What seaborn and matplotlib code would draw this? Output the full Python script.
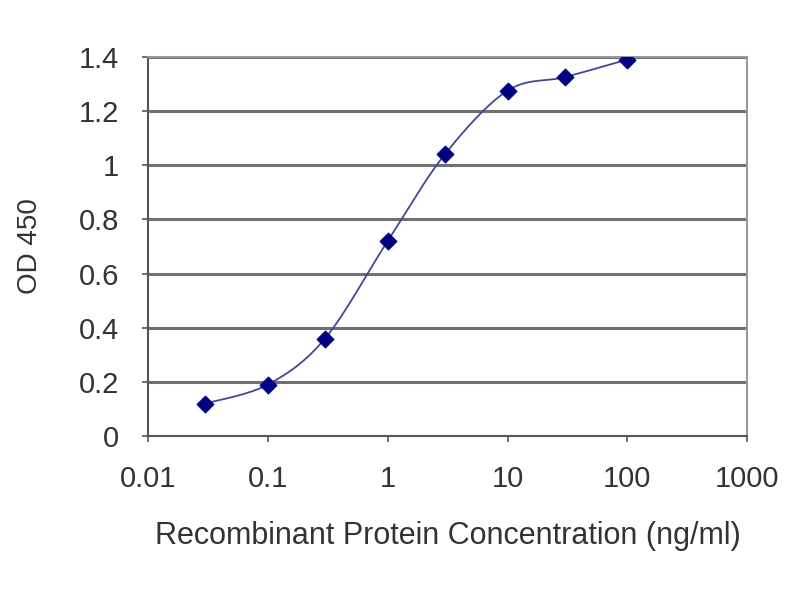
import numpy as np
import pandas as pd
import matplotlib
matplotlib.use("Agg")
import matplotlib.pyplot as plt
import seaborn as sns

# data
conc = [0.03, 0.1, 0.3, 1, 3, 10, 30, 100]
od450 = [0.12, 0.19, 0.36, 0.72, 1.04, 1.275, 1.325, 1.39]
x_ticks = [0.01, 0.1, 1, 10, 100, 1000]
x_tick_labels = ["0.01", "0.1", "1", "10", "100", "1000"]
y_ticks = [0, 0.2, 0.4, 0.6, 0.8, 1, 1.2, 1.4]
y_tick_labels = ["0", "0.2", "0.4", "0.6", "0.8", "1", "1.2", "1.4"]

sns.set_style("white")
plt.rcParams["font.family"] = ["Liberation Sans", "DejaVu Sans"]

df = pd.DataFrame({"conc": conc, "od": od450})


# Excel-style smoothed line: cubic bezier through the points in log-x space
def smooth(xs, ys, n=30):
    lx = np.log10(xs)
    ys = np.asarray(ys, dtype=float)
    px, py = [], []
    for i in range(len(lx) - 1):
        p0 = (lx[max(i - 1, 0)], ys[max(i - 1, 0)])
        p1 = (lx[i], ys[i])
        p2 = (lx[i + 1], ys[i + 1])
        p3 = (lx[min(i + 2, len(lx) - 1)], ys[min(i + 2, len(lx) - 1)])
        c1 = (p1[0] + (p2[0] - p0[0]) / 6, p1[1] + (p2[1] - p0[1]) / 6)
        c2 = (p2[0] - (p3[0] - p1[0]) / 6, p2[1] - (p3[1] - p1[1]) / 6)
        t = np.linspace(0, 1, n)
        bx = (1 - t) ** 3 * p1[0] + 3 * (1 - t) ** 2 * t * c1[0] + 3 * (1 - t) * t ** 2 * c2[0] + t ** 3 * p2[0]
        by = (1 - t) ** 3 * p1[1] + 3 * (1 - t) ** 2 * t * c1[1] + 3 * (1 - t) * t ** 2 * c2[1] + t ** 3 * p2[1]
        px.extend(bx)
        py.extend(by)
    return 10 ** np.array(px), np.array(py)


fig = plt.figure(figsize=(8, 6), dpi=100)
ax = fig.add_axes([0.185, 0.2733, 0.749, 0.632])

sx, sy = smooth(conc, od450)
sns.lineplot(x=sx, y=sy, ax=ax, color="#45459a", linewidth=1.3, sort=False)
sns.scatterplot(data=df, x="conc", y="od", ax=ax, marker="D", s=75,
                color="#000080", edgecolor="#000080", zorder=3)

ax.set_xscale("log")
ax.set_xlim(0.01, 1000)
ax.set_ylim(0, 1.4)
ax.set_xticks(x_ticks)
ax.set_xticklabels(x_tick_labels)
ax.set_yticks(y_ticks)
ax.set_yticklabels(y_tick_labels)
ax.minorticks_off()

ax.yaxis.grid(True, color="#707070", linewidth=2.2)
ax.set_axisbelow(True)
for side in ["left", "bottom"]:
    ax.spines[side].set_color("#555555")
    ax.spines[side].set_linewidth(1.5)
for side in ["top", "right"]:
    ax.spines[side].set_color("#999999")
    ax.spines[side].set_linewidth(1.5)

ax.tick_params(axis="both", which="major", direction="out", length=4, width=1.2,
               color="#555555", labelsize=21, labelcolor="#333333",
               bottom=True, left=True)
ax.tick_params(axis="x", pad=17)
ax.tick_params(axis="y", pad=17)

ax.set_xlabel("Recombinant Protein Concentration (ng/ml)", fontsize=22, color="#333333")
ax.set_ylabel("OD 450", fontsize=20, color="#333333")
ax.xaxis.set_label_coords(0.5, -0.225)
ax.yaxis.set_label_coords(-0.175, 0.5)

fig.savefig("out.png", dpi=100)
